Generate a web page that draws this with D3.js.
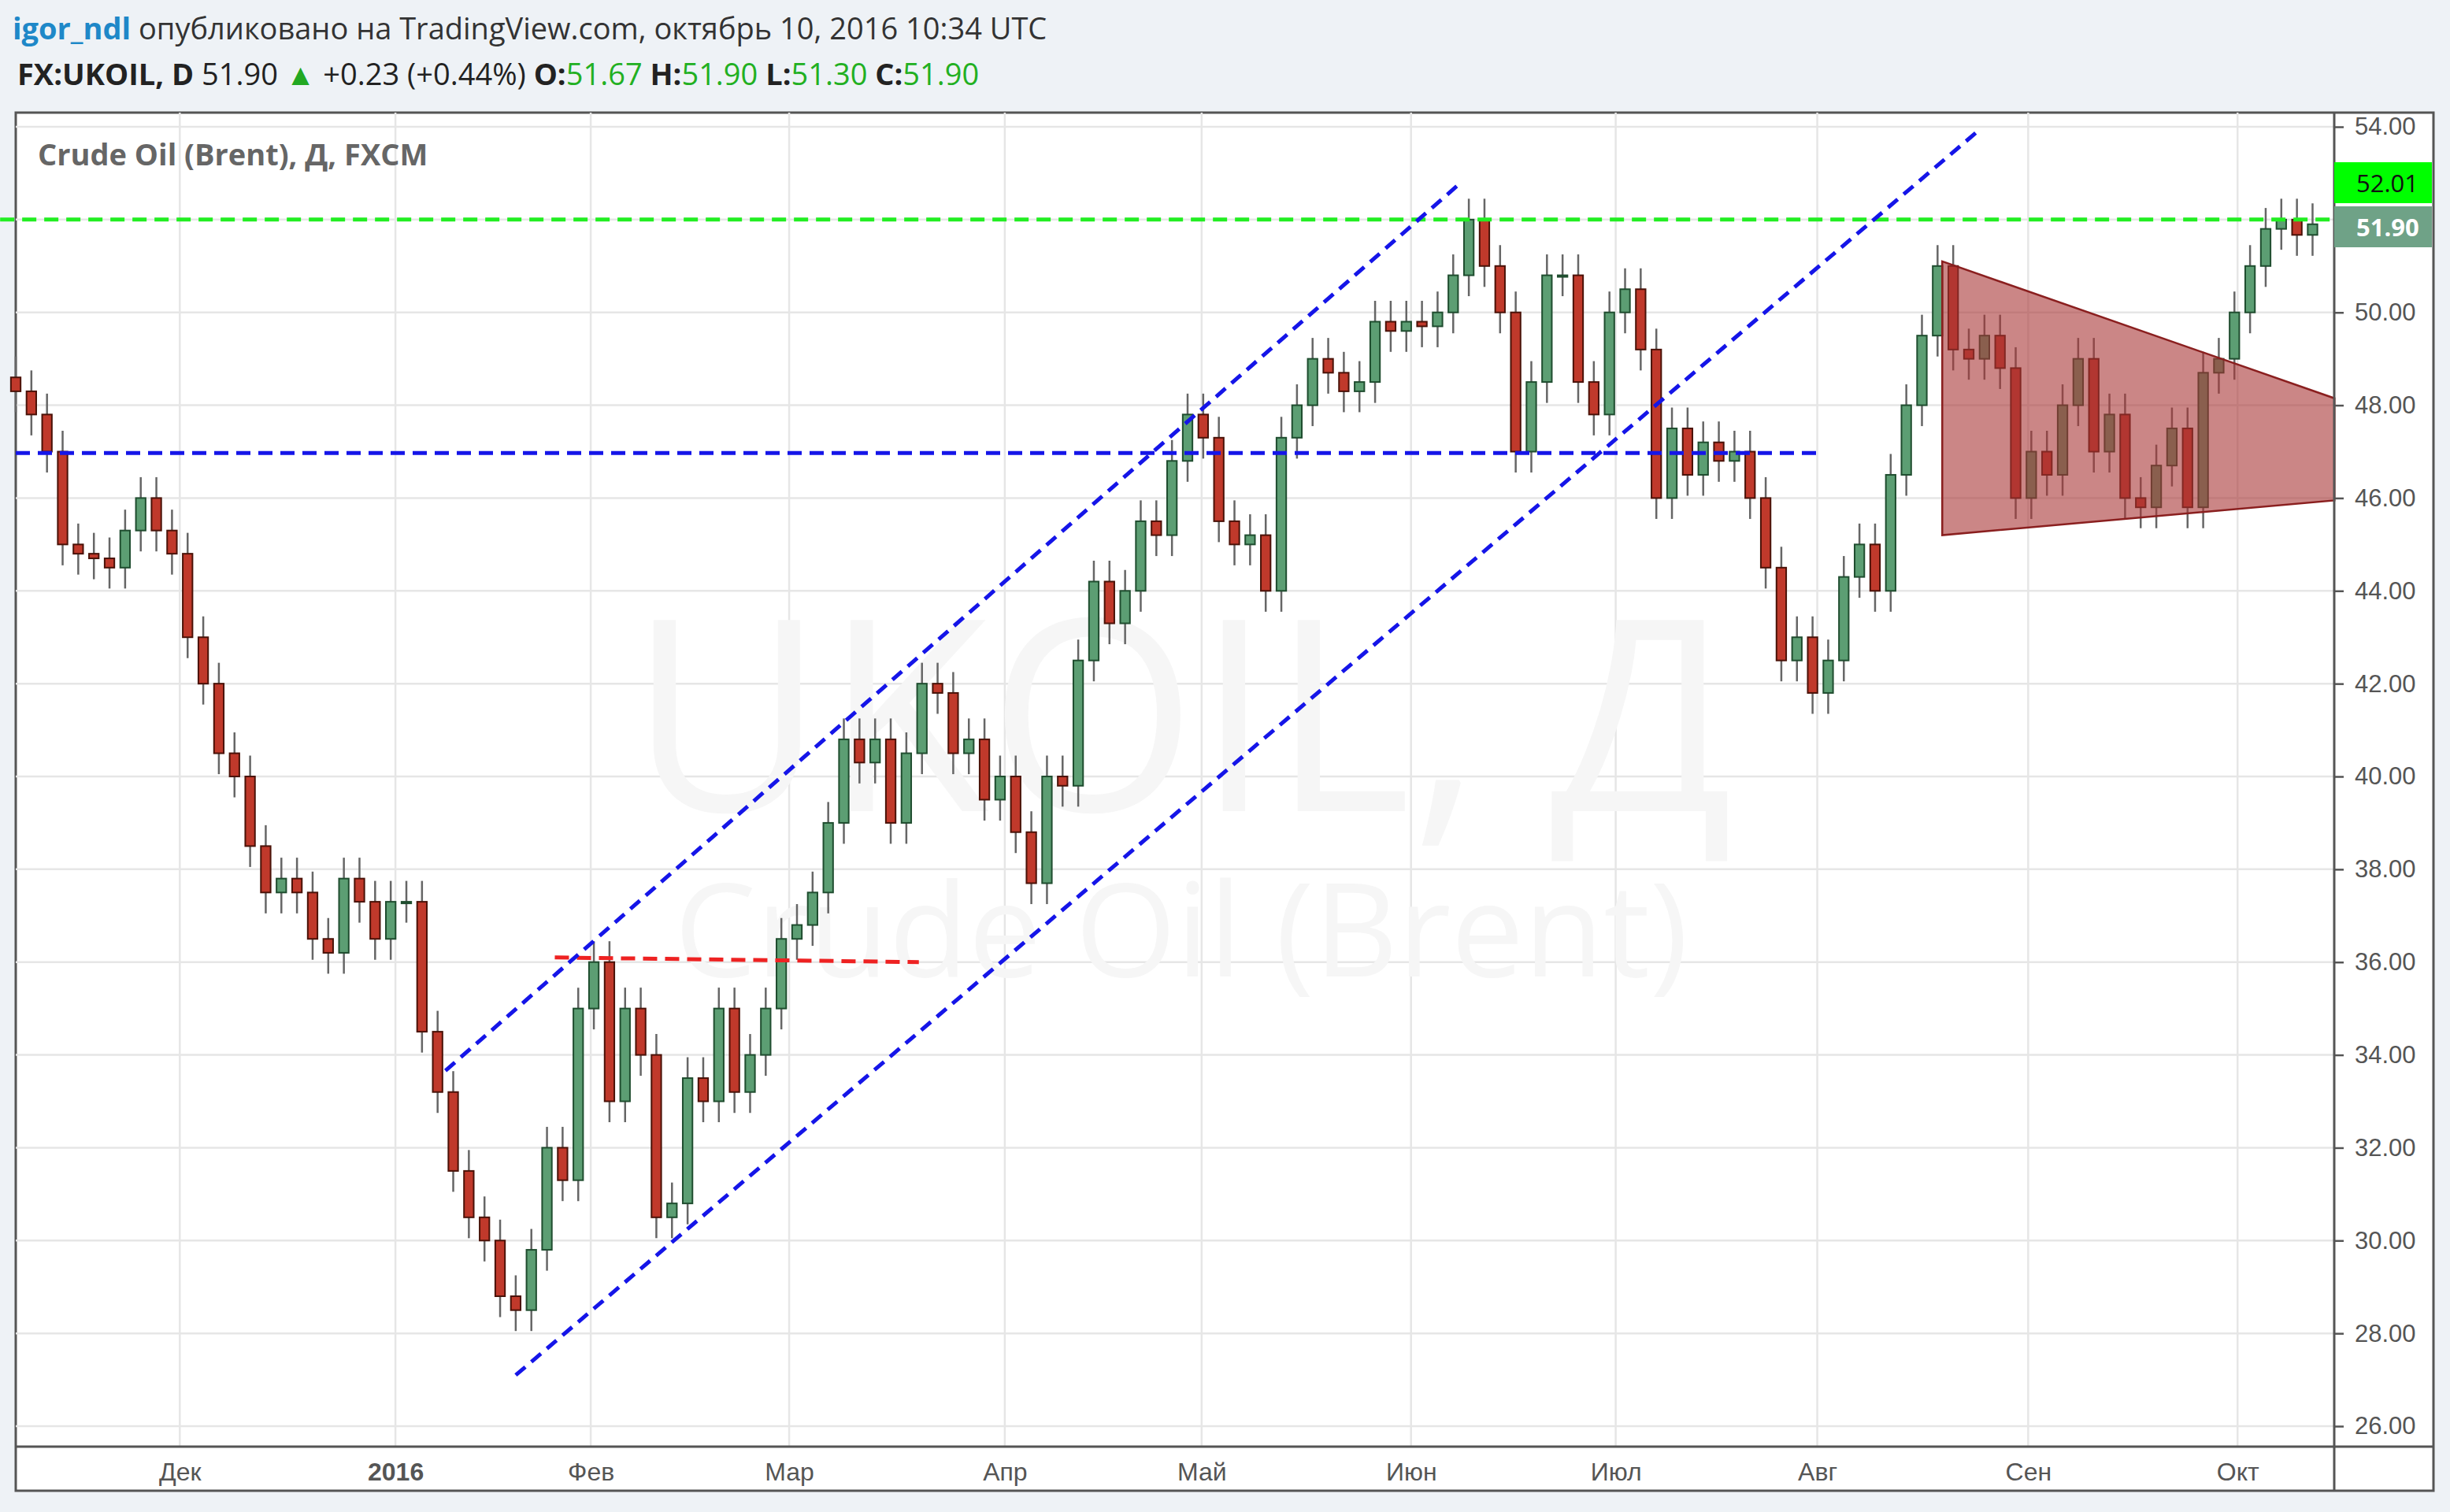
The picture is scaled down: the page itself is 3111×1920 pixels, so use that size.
<!DOCTYPE html><html><head><meta charset="utf-8">
<script src="https://cdn.jsdelivr.net/npm/d3@7"></script>
<style>body{margin:0;background:#eef2f6;font-family:"Open Sans",sans-serif}</style></head><body>
<svg id="c" width="3111" height="1920"></svg>
<script>
const closes=[48.3,47.8,47.0,45.0,44.8,44.7,44.5,45.3,46.0,45.3,
44.8,43.0,42.0,40.5,40.0,38.5,37.5,37.8,37.5,36.5,
36.2,37.8,37.3,36.5,37.3,37.3,34.5,33.2,31.5,30.5,
30.0,28.8,28.5,29.8,32.0,31.3,35.0,36.0,33.0,35.0,
34.0,30.5,30.8,33.5,33.0,35.0,33.2,34.0,35.0,36.5,
36.8,37.5,39.0,40.8,40.3,40.8,39.0,40.5,42.0,41.8,
40.5,40.8,39.5,40.0,38.8,37.7,40.0,39.8,42.5,44.2,
43.3,44.0,45.5,45.2,46.8,47.8,47.3,45.5,45.0,45.2,
44.0,47.3,48.0,49.0,48.7,48.3,48.5,49.8,49.6,49.8,
49.7,50.0,50.8,52.0,51.0,50.0,47.0,48.5,50.8,
50.8,48.5,47.8,50.0,50.5,49.2,46.0,47.5,46.5,
47.2,46.8,47.0,46.0,44.5,42.5,43.0,41.8,42.5,44.3,
45.0,44.0,46.5,48.0,49.5,51.0,49.2,49.0,49.5,48.8,46.0,47.0,46.5,48.0,49.0,47.0,47.8,46.0,45.8,46.7,47.5,45.8,48.7,49.0,50.0,51.0,51.8,52.0,51.67,51.9];
const firstOpen=48.6, wick=0.45;
const monthLabels=["Дек","2016","Фев","Мар","Апр","Май","Июн","Июл","Авг","Сен","Окт"];
const monthIdx=[10.5,24.3,36.8,49.5,63.3,75.9,89.3,102.4,115.3,128.8,142.2];
const yTicks=d3.range(26,54.01,2);
const hLines=[{p:52.0,c:"#22ee22",i0:-1,i1:148.4},{p:46.97,c:"#1515e8",i0:0,i1:115.5}];
const redLine=[[34.5,36.1],[57.8,36.0]];
const channels=[[[27.5,33.66],[92.5,52.8]],[[32,27.1],[125.8,53.97]]];
const tri=[[123.3,51.1],[148.4,48.15],[148.4,45.95],[123.3,45.2]];

const svg=d3.select("#c");
const L=20,R=2964,T=143,B=1837;
const x=d3.scaleLinear().domain([0,1]).range([20,39.84]);
const y=d3.scaleLinear().domain([26,54]).range([1811,161]);
svg.append("rect").attr("x",L).attr("y",T).attr("width",3090-L).attr("height",1893-T).attr("fill","#fff").attr("stroke","#555").attr("stroke-width",3);
const g=svg.append("g");
yTicks.forEach(t=>g.append("line").attr("x1",L).attr("x2",R).attr("y1",y(t)).attr("y2",y(t)).attr("stroke","#e6e6e6").attr("stroke-width",2.5));
monthIdx.forEach(t=>g.append("line").attr("x1",x(t)).attr("x2",x(t)).attr("y1",T).attr("y2",B).attr("stroke","#e6e6e6").attr("stroke-width",2.5));
g.append("text").attr("x",1500).attr("y",1030).attr("text-anchor","middle").attr("font-size",340).attr("fill","#f6f6f6").text("UKOIL, Д");
g.append("text").attr("x",1500).attr("y",1240).attr("text-anchor","middle").attr("font-size",165).attr("fill","#f6f6f6").text("Crude Oil (Brent)");
g.append("text").attr("x",48).attr("y",210).attr("font-size",38).attr("font-weight","bold").attr("fill","#666").text("Crude Oil (Brent), Д, FXCM");
svg.append("line").attr("x1",R).attr("x2",R).attr("y1",T).attr("y2",1893).attr("stroke","#555").attr("stroke-width",3);
svg.append("line").attr("x1",L).attr("x2",3090).attr("y1",B).attr("y2",B).attr("stroke","#555").attr("stroke-width",3);
svg.append("g").attr("transform",`translate(${R},0)`).call(d3.axisRight(y).tickValues(yTicks).tickFormat(d3.format(".2f")).tickSize(12).tickPadding(14))
 .call(a=>{a.select(".domain").remove();a.selectAll("text").attr("font-size",31).attr("fill","#555");a.selectAll("line").attr("stroke","#555").attr("stroke-width",2.5);});
svg.append("g").attr("transform",`translate(0,${B})`).call(d3.axisBottom(x).tickValues(monthIdx).tickFormat((d,i)=>monthLabels[i]).tickSize(0).tickPadding(20))
 .call(a=>{a.select(".domain").remove();a.selectAll("text").attr("font-size",32).attr("fill","#555").attr("font-weight",(d,i)=>i==1?"bold":"normal");});
const cw=x(0.62)-x(0);
closes.forEach((c,i)=>{const o=i?closes[i-1]:firstOpen;const up=c>=o;const hi=Math.max(o,c)+wick,lo=Math.min(o,c)-wick;
 g.append("line").attr("x1",x(i)).attr("x2",x(i)).attr("y1",y(hi)).attr("y2",y(lo)).attr("stroke","#666").attr("stroke-width",2.5);
 g.append("rect").attr("x",x(i)-cw/2).attr("width",cw).attr("y",y(Math.max(o,c))).attr("height",Math.max(2,y(Math.min(o,c))-y(Math.max(o,c))))
  .attr("fill",up?"#5c9e73":"#c0392b").attr("stroke",up?"#1f4d2f":"#4a1208").attr("stroke-width",2);});
g.append("polygon").attr("points",tri.map(p=>[x(p[0]),y(p[1])].join(",")).join(" ")).attr("fill","#a83535").attr("fill-opacity",0.6).attr("stroke","#8a1f1f").attr("stroke-width",2.5);
hLines.forEach(h=>g.append("line").attr("x1",x(h.i0)).attr("x2",x(h.i1)).attr("y1",y(h.p)).attr("y2",y(h.p)).attr("stroke",h.c).attr("stroke-width",5).attr("stroke-dasharray","18,10"));
g.append("line").attr("x1",x(redLine[0][0])).attr("y1",y(redLine[0][1])).attr("x2",x(redLine[1][0])).attr("y2",y(redLine[1][1])).attr("stroke","#ee2222").attr("stroke-width",5).attr("stroke-dasharray","18,10");
channels.forEach(c=>g.append("line").attr("x1",x(c[0][0])).attr("y1",y(c[0][1])).attr("x2",x(c[1][0])).attr("y2",y(c[1][1])).attr("stroke","#1515e8").attr("stroke-width",5).attr("stroke-dasharray","16,10"));
svg.append("rect").attr("x",R).attr("y",206).attr("width",124).attr("height",52).attr("fill","#00ff00");
svg.append("text").attr("x",R+28).attr("y",244).attr("font-size",31).attr("fill","#111").text("52.01");
svg.append("rect").attr("x",R).attr("y",262).attr("width",124).attr("height",52).attr("fill","#6fa287");
svg.append("text").attr("x",R+28).attr("y",300).attr("font-size",31).attr("font-weight","bold").attr("fill","#fff").text("51.90");
const h1=svg.append("text").attr("x",16).attr("y",50).attr("font-size",38).attr("fill","#333");
h1.append("tspan").attr("fill","#1e88c8").attr("font-weight","bold").text("igor_ndl");
h1.append("tspan").text(" опубликовано на TradingView.com, октябрь 10, 2016 10:34 UTC");
const h2=svg.append("text").attr("x",22).attr("y",108).attr("font-size",38).attr("fill","#222");
h2.append("tspan").attr("font-weight","bold").text("FX:UKOIL, D ");
h2.append("tspan").text("51.90 ");
h2.append("tspan").attr("fill","#22a822").text("▲");
h2.append("tspan").text(" +0.23 (+0.44%) ");
[["O:","51.67"],["H:","51.90"],["L:","51.30"],["C:","51.90"]].forEach(([k,v])=>{h2.append("tspan").attr("font-weight","bold").text(k);h2.append("tspan").attr("fill","#22b022").text(v+" ");});
</script></body></html>
